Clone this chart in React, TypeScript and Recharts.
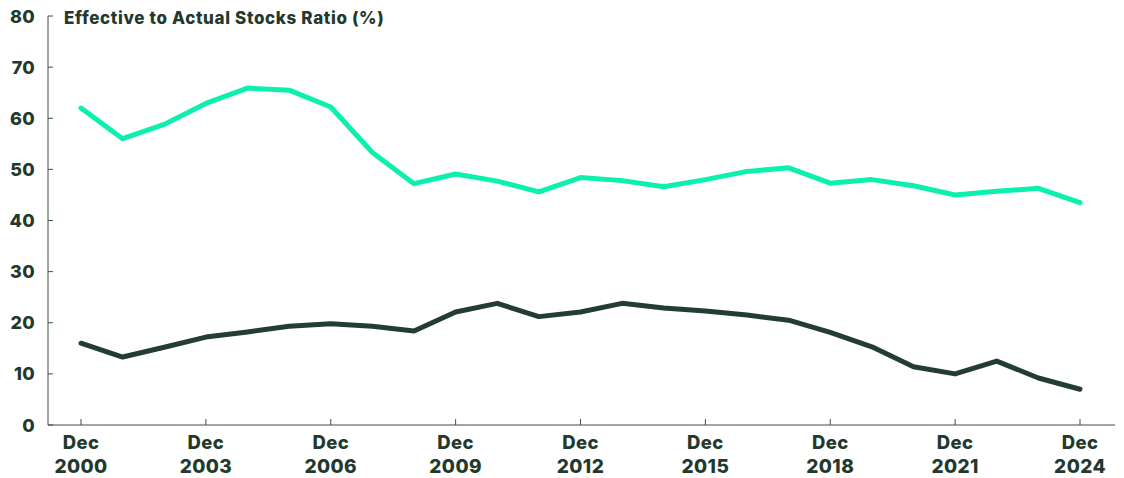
import React from "react";
import { LineChart, Line, XAxis, YAxis } from "recharts";

const years = [
  2000, 2001, 2002, 2003, 2004, 2005, 2006, 2007, 2008, 2009, 2010, 2011, 2012,
  2013, 2014, 2015, 2016, 2017, 2018, 2019, 2020, 2021, 2022, 2023, 2024,
];
const tealValues = [
  62.0, 56.0, 58.8, 62.9, 65.9, 65.5, 62.2, 53.3, 47.2, 49.1, 47.7, 45.6, 48.4,
  47.8, 46.6, 48.0, 49.6, 50.3, 47.3, 48.0, 46.8, 45.0, 45.7, 46.3, 43.5,
];
const darkValues = [
  16.0, 13.3, 15.2, 17.2, 18.2, 19.3, 19.8, 19.3, 18.4, 22.1, 23.8, 21.2, 22.1,
  23.8, 22.9, 22.3, 21.5, 20.5, 18.1, 15.3, 11.4, 10.0, 12.5, 9.2, 7.0,
];
const xTicks = [2000, 2003, 2006, 2009, 2012, 2015, 2018, 2021, 2024];
const xTickPrefix = "Dec";
const yTicks = [0, 10, 20, 30, 40, 50, 60, 70, 80];
const title = "Effective to Actual Stocks Ratio (%)";

const data = years.map((year, i) => ({
  year,
  teal: tealValues[i],
  dark: darkValues[i],
}));

const TEXT = "#23392D";
const AXIS = "#3E4F45";
const TEAL = "#0BEFAF";
const DARK = "#243D31";
const FONT = "Inter, 'DejaVu Sans', sans-serif";

const YTick = (props: any) => {
  const { x, y, payload } = props;
  return (
    <g>
      <line x1={x + 13} x2={x + 18} y1={y} y2={y} stroke={AXIS} strokeWidth={1} />
      <text
        x={x}
        y={y + 6.5}
        textAnchor="end"
        fill={TEXT}
        fontFamily={FONT}
        fontWeight={800}
        fontSize={18}
        letterSpacing={0.3}
      >
        {payload.value}
      </text>
    </g>
  );
};

const XTick = (props: any) => {
  const { x, y, payload } = props;
  return (
    <g>
      <line x1={x} x2={x} y1={y - 6} y2={y} stroke={AXIS} strokeWidth={1} />
      <text
        x={x}
        y={y + 24}
        textAnchor="middle"
        fill={TEXT}
        fontFamily={FONT}
        fontWeight={800}
        fontSize={18.5}
        letterSpacing={0.4}
      >
        {xTickPrefix}
      </text>
      <text
        x={x}
        y={y + 47.5}
        textAnchor="middle"
        fill={TEXT}
        fontFamily={FONT}
        fontWeight={800}
        fontSize={19}
        letterSpacing={0.4}
      >
        {payload.value}
      </text>
    </g>
  );
};

export default function App() {
  return (
    <div
      style={{
        position: "absolute",
        left: 0,
        top: 0,
        width: 1124,
        height: 478,
        background: "#fff",
      }}
    >
      <LineChart
        width={1124}
        height={478}
        data={data}
        margin={{ top: 16, right: 9, left: 0, bottom: 0 }}
      >
        <XAxis
          dataKey="year"
          type="number"
          domain={[2000, 2024]}
          ticks={xTicks}
          padding={{ left: 33, right: 35 }}
          height={53}
          tickSize={0}
          tickMargin={0}
          tickLine={false}
          axisLine={{ stroke: AXIS, strokeWidth: 1 }}
          tick={<XTick />}
          interval={0}
        />
        <YAxis
          type="number"
          domain={[0, 80]}
          ticks={yTicks}
          width={48}
          tickSize={0}
          tickMargin={13}
          tickLine={false}
          axisLine={{ stroke: AXIS, strokeWidth: 1 }}
          tick={<YTick />}
          interval={0}
        />
        <Line
          dataKey="teal"
          stroke={TEAL}
          strokeWidth={5}
          dot={false}
          strokeLinecap="round"
          strokeLinejoin="round"
          isAnimationActive={false}
        />
        <Line
          dataKey="dark"
          stroke={DARK}
          strokeWidth={5}
          dot={false}
          strokeLinecap="round"
          strokeLinejoin="round"
          isAnimationActive={false}
        />
      </LineChart>
      <svg
        width={1124}
        height={478}
        style={{ position: "absolute", left: 0, top: 0, pointerEvents: "none" }}
      >
        <text
          x={64}
          y={23.5}
          fill={TEXT}
          fontFamily={FONT}
          fontWeight={800}
          fontSize={17}
          letterSpacing={0.65}
        >
          {title}
        </text>
      </svg>
    </div>
  );
}
